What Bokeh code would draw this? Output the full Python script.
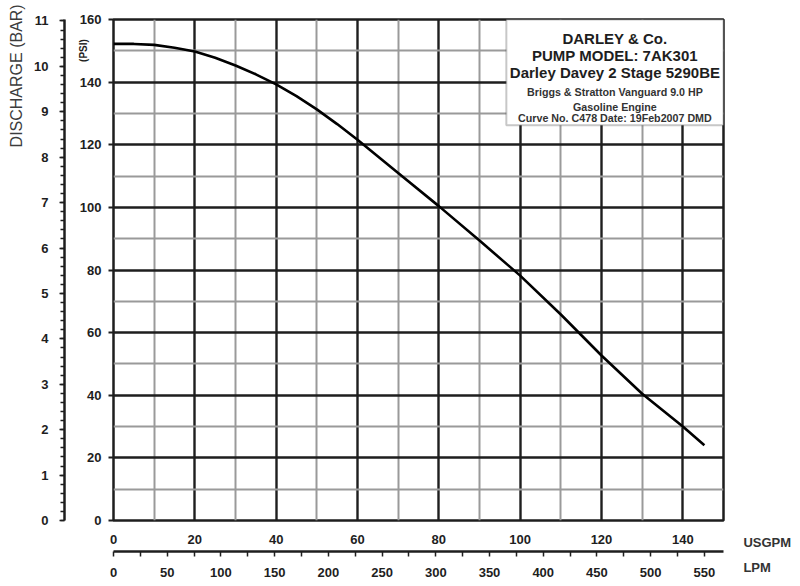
import math
from bokeh.plotting import figure
from bokeh.models import Range1d, LinearAxis, FixedTicker, BoxAnnotation, Label
from bokeh.embed import file_html
from bokeh.resources import INLINE

# ---------------- data ----------------
flow_usgpm = [0, 5, 10, 15, 20, 25, 30, 35, 40, 45, 50, 55, 60, 70, 80, 90, 100, 110, 120, 130, 140, 145.3]
pressure_psi = [152.2, 152.2, 151.9, 151.0, 149.8, 147.8, 145.3, 142.5, 139.3, 135.5, 131.3, 126.6,
                121.6, 111.0, 100.4, 89.4, 78.2, 65.8, 52.7, 40.5, 30.0, 24.0]

usgpm_ticks = [0, 20, 40, 60, 80, 100, 120, 140]
usgpm_minor = [10, 30, 50, 70, 90, 110, 130, 150]
psi_ticks = [0, 20, 40, 60, 80, 100, 120, 140, 160]
psi_minor = [10, 30, 50, 70, 90, 110, 130, 150]
bar_ticks = [0, 1, 2, 3, 4, 5, 6, 7, 8, 9, 10, 11]
bar_minor = [round(i * 0.2, 1) for i in range(0, 56)]
lpm_ticks = [0, 50, 100, 150, 200, 250, 300, 350, 400, 450, 500, 550]
lpm_minor = [25, 75, 125, 175, 225, 275, 325, 375, 425, 475, 525]

box_title_lines = ["DARLEY & Co.", "PUMP MODEL: 7AK301", "Darley Davey 2 Stage 5290BE"]
box_small_lines = ["Briggs & Stratton Vanguard 9.0 HP", "Gasoline Engine",
                   "Curve No. C478 Date: 19Feb2007 DMD"]

bar_title = "DISCHARGE (BAR)"
psi_title = "(PSI)"
unit_titles = ["USGPM", "LPM"]

PSI_PER_BAR = 14.5038
LPM_PER_USGPM = 3.78541
X_MAX = 150
Y_MAX = 160

FONT = "Liberation Sans"
DARK = "#1e1e1e"

# ---------------- figure ----------------
p = figure(width=800, height=586, output_backend="svg", toolbar_location=None,
           x_range=Range1d(0, X_MAX), y_range=Range1d(0, Y_MAX),
           min_border_left=113, min_border_right=77, min_border_top=19, min_border_bottom=66)
p.background_fill_color = "white"
p.border_fill_color = "white"
p.outline_line_color = DARK
p.outline_line_width = 2.5

p.extra_x_ranges = {"lpm": Range1d(0, X_MAX * LPM_PER_USGPM)}
p.extra_y_ranges = {"bar": Range1d(0, Y_MAX / PSI_PER_BAR)}

xt = FixedTicker(ticks=usgpm_ticks, minor_ticks=usgpm_minor)
yt = FixedTicker(ticks=psi_ticks, minor_ticks=psi_minor)

# grids
p.xgrid.ticker = xt
p.ygrid.ticker = yt
for g in (p.xgrid, p.ygrid):
    g.grid_line_color = DARK
    g.grid_line_width = 2.4
    g.minor_grid_line_color = "#9a9a9a"
    g.minor_grid_line_width = 2

def plain(ax):
    ax.axis_line_color = None
    ax.major_tick_line_color = None
    ax.minor_tick_line_color = None
    ax.major_tick_out = 0
    ax.major_tick_in = 0
    ax.minor_tick_out = 0
    ax.minor_tick_in = 0

# USGPM axis (bottom, inner)
xa = p.xaxis[0]
xa.ticker = xt
plain(xa)
xa.major_label_standoff = 14
xa.axis_label = " "
xa.axis_label_standoff = 0
xa.axis_label_text_font_size = "2px"

# LPM axis (bottom, outer)
lpm_axis = LinearAxis(x_range_name="lpm",
                      ticker=FixedTicker(ticks=lpm_ticks, minor_ticks=lpm_minor))
lpm_axis.axis_line_color = DARK
lpm_axis.axis_line_width = 2.5
lpm_axis.major_tick_line_color = DARK
lpm_axis.minor_tick_line_color = DARK
lpm_axis.major_tick_line_width = 1.5
lpm_axis.minor_tick_line_width = 1.5
lpm_axis.major_tick_out = 5
lpm_axis.major_tick_in = 0
lpm_axis.minor_tick_out = 5
lpm_axis.minor_tick_in = 0
lpm_axis.major_label_standoff = 11
p.add_layout(lpm_axis, "below")

# PSI axis (left, inner)
ya = p.yaxis[0]
ya.ticker = yt
ya.axis_line_color = None
ya.major_tick_line_color = DARK
ya.major_tick_line_width = 2
ya.major_tick_out = 5
ya.major_tick_in = 0
ya.minor_tick_line_color = None
ya.minor_tick_out = 0
ya.minor_tick_in = 0
ya.major_label_standoff = 7
ya.axis_label = " "
ya.axis_label_standoff = 0
ya.axis_label_text_font_size = "7.5px"

# BAR axis (left, outer)
bar_axis = LinearAxis(y_range_name="bar",
                      ticker=FixedTicker(ticks=bar_ticks, minor_ticks=bar_minor))
bar_axis.axis_line_color = DARK
bar_axis.axis_line_width = 2.5
bar_axis.major_tick_line_color = DARK
bar_axis.minor_tick_line_color = DARK
bar_axis.major_tick_line_width = 1.5
bar_axis.minor_tick_line_width = 1.5
bar_axis.major_tick_out = 5
bar_axis.major_tick_in = 0
bar_axis.minor_tick_out = 4
bar_axis.minor_tick_in = 0
bar_axis.major_label_standoff = 11
p.add_layout(bar_axis, "left")

for ax in (xa, lpm_axis, ya, bar_axis):
    ax.major_label_text_font = FONT
    ax.major_label_text_font_style = "bold"
    ax.major_label_text_font_size = "13px"
    ax.major_label_text_color = DARK

# axis titles as labels placed in the side panels (drawn outside the frame)
p.add_layout(Label(x=-23.85, y=142.0, text=bar_title, angle=math.pi / 2,
                   text_align="center", text_baseline="middle",
                   text_font=FONT, text_font_size="16px", text_color="#3c3c3c"), "left")
p.add_layout(Label(x=-7.4, y=150.1, text=psi_title, angle=math.pi / 2,
                   text_align="center", text_baseline="middle",
                   text_font=FONT, text_font_style="bold", text_font_size="10px",
                   text_color=DARK), "left")
for txt, yv in zip(unit_titles, [-6.93, -14.9]):
    p.add_layout(Label(x=154.9, y=yv, text=txt, text_align="left", text_baseline="middle",
                       text_font=FONT, text_font_style="bold", text_font_size="13px",
                       text_color="#333333"), "right")

# curve
p.line(flow_usgpm, pressure_psi, line_color="black", line_width=2.6)

# info box
box = BoxAnnotation(left=96.6, right=X_MAX, top=Y_MAX, bottom=126.2,
                    fill_color="white", fill_alpha=1.0,
                    line_color="#444444", line_width=2)
p.add_layout(box)

box_cx = 123.3
for txt, yv in zip(box_title_lines, [153.8, 148.4, 143.1]):
    p.add_layout(Label(x=box_cx, y=yv, text=txt, text_align="center", text_baseline="middle",
                       text_font=FONT, text_font_style="bold", text_font_size="15px",
                       text_color=DARK))
for txt, yv in zip(box_small_lines, [136.9, 132.1, 128.4]):
    p.add_layout(Label(x=box_cx, y=yv, text=txt, text_align="center", text_baseline="middle",
                       text_font=FONT, text_font_style="bold", text_font_size="10.7px",
                       text_color="#333333"))

open("out.html", "w").write(file_html(p, INLINE))
